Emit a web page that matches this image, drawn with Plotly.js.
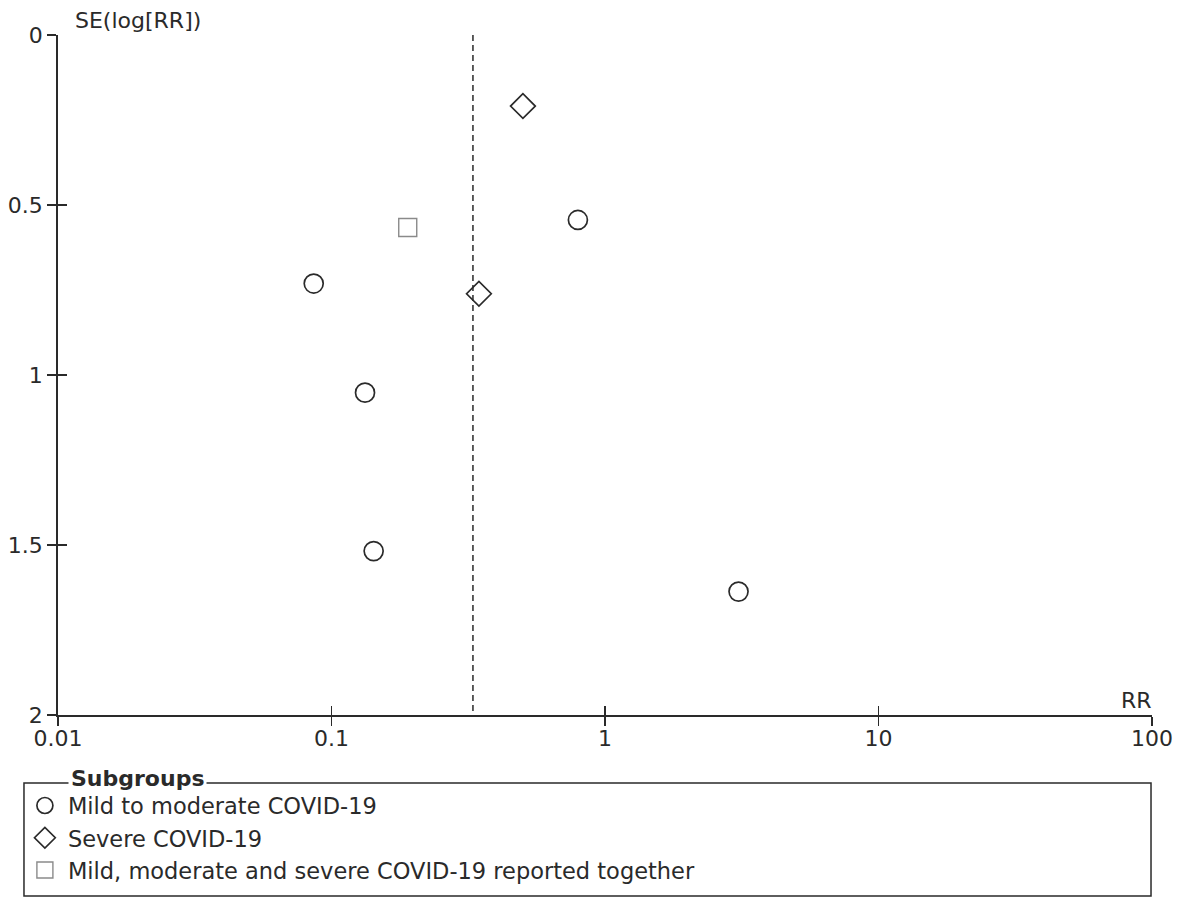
<!DOCTYPE html>
<html>
<head>
<meta charset="utf-8">
<script src="https://cdn.plot.ly/plotly-3.0.1.min.js"></script>
<style>html,body{margin:0;padding:0;background:#fff;}#chart{width:1185px;height:899px;}</style>
</head>
<body>
<div id="chart"></div>
<script>
// ---- data ----
const subgroupNames = ['Mild to moderate COVID-19', 'Severe COVID-19', 'Mild, moderate and severe COVID-19 reported together'];
const mildRR = [0.0861, 0.1326, 0.1426, 0.796, 3.078];
const mildSE = [0.731, 1.052, 1.518, 0.544, 1.637];
const severeRR = [0.501, 0.346];
const severeSE = [0.209, 0.761];
const togetherRR = [0.190];
const togetherSE = [0.566];
const pooledRR = 0.329;
const seLimits = [0, 2];
const xTickVals = [0.01, 0.1, 1, 10, 100];
const xTickText = ['0.01', '0.1', '1', '10', '100'];
const yTickVals = [0, 0.5, 1, 1.5, 2];
const yTickText = ['0', '0.5', '1', '1.5', '2'];

const FONT = 'DejaVu Sans, Verdana, sans-serif';
const INK = '#2a2a2a';

const traces = [
  {x: [pooledRR, pooledRR], y: seLimits, mode: 'lines', showlegend: false, hoverinfo: 'skip',
   line: {color: INK, width: 1.5, dash: '6px,4px'}},
  {x: mildRR, y: mildSE, mode: 'markers', name: subgroupNames[0], legendgroup: 'a',
   marker: {symbol: 'circle-open', size: 19, color: INK, line: {width: 1.7}}},
  {x: severeRR, y: severeSE, mode: 'markers', name: subgroupNames[1], legendgroup: 'b',
   marker: {symbol: 'diamond-open', size: 19, color: INK, line: {width: 1.7}}},
  {x: togetherRR, y: togetherSE, mode: 'markers', name: subgroupNames[2], legendgroup: 'c',
   marker: {symbol: 'square-open', size: 18, color: '#8a8a8a', line: {width: 1.4}}},
  {x: [], y: [], xaxis: 'x2', yaxis: 'y2', showlegend: false, hoverinfo: 'skip'}
];

const xr = [Math.log10(xTickVals[0]), Math.log10(xTickVals[xTickVals.length - 1])];
const yr = [seLimits[1], seLimits[0]];

const layout = {
  width: 1185, height: 899,
  margin: {l: 58, r: 33, t: 35, b: 184, autoexpand: false},
  paper_bgcolor: '#fff', plot_bgcolor: '#fff',
  font: {family: FONT, color: INK, size: 22},
  showlegend: true,
  xaxis: {type: 'log', range: xr, tickvals: xTickVals, ticktext: xTickText,
    showgrid: false, zeroline: false, showline: true, linecolor: INK, linewidth: 1.8,
    ticks: 'outside', ticklen: 9, tickwidth: 1.5, tickcolor: INK, ticklabelstandoff: -6,
    automargin: false, tickfont: {family: FONT, size: 22, color: INK}},
  yaxis: {range: yr, tickvals: yTickVals, ticktext: yTickText,
    showgrid: false, zeroline: false, showline: true, linecolor: INK, linewidth: 1.8,
    ticks: 'outside', ticklen: 9, tickwidth: 1.5, tickcolor: INK,
    automargin: false, tickfont: {family: FONT, size: 22, color: INK}},
  xaxis2: {type: 'log', range: xr, tickvals: xTickVals, overlaying: 'x', anchor: 'y',
    showgrid: false, zeroline: false, showline: false, showticklabels: false,
    ticks: 'inside', ticklen: 9, tickwidth: 1.5, tickcolor: INK},
  yaxis2: {range: yr, tickvals: yTickVals, overlaying: 'y', anchor: 'x',
    showgrid: false, zeroline: false, showline: false, showticklabels: false,
    ticks: 'inside', ticklen: 9, tickwidth: 1.5, tickcolor: INK},
  legend: {x: -0.033, xanchor: 'left', y: -0.102, yanchor: 'top',
    bgcolor: 'rgba(0,0,0,0)', borderwidth: 0, traceorder: 'grouped', tracegroupgap: 0,
    itemwidth: 36, font: {family: FONT, size: 22.5, color: INK}},
  shapes: [
    {type: 'rect', xref: 'paper', yref: 'paper', x0: -0.0311, x1: 0.9991, y0: -0.1, y1: -0.266,
     line: {color: INK, width: 1.5}, fillcolor: 'rgba(0,0,0,0)'}
  ],
  annotations: [
    {text: '<b>Subgroups</b>', xref: 'paper', yref: 'paper', x: 0.0091, y: -0.094,
     xanchor: 'left', yanchor: 'middle', showarrow: false, bgcolor: '#fff', borderpad: 2,
     font: {family: FONT, size: 22, color: INK}},
    {text: 'SE(log[RR])', xref: 'paper', yref: 'paper', x: 0.0137, y: 1.022,
     xanchor: 'left', yanchor: 'middle', showarrow: false,
     font: {family: FONT, size: 22, color: INK}},
    {text: 'RR', xref: 'paper', yref: 'paper', x: 1.002, y: 0.0,
     xanchor: 'right', yanchor: 'bottom', showarrow: false,
     font: {family: FONT, size: 22, color: INK}}
  ]
};

Plotly.newPlot('chart', traces, layout, {displayModeBar: false, staticPlot: true});
</script>
</body>
</html>
